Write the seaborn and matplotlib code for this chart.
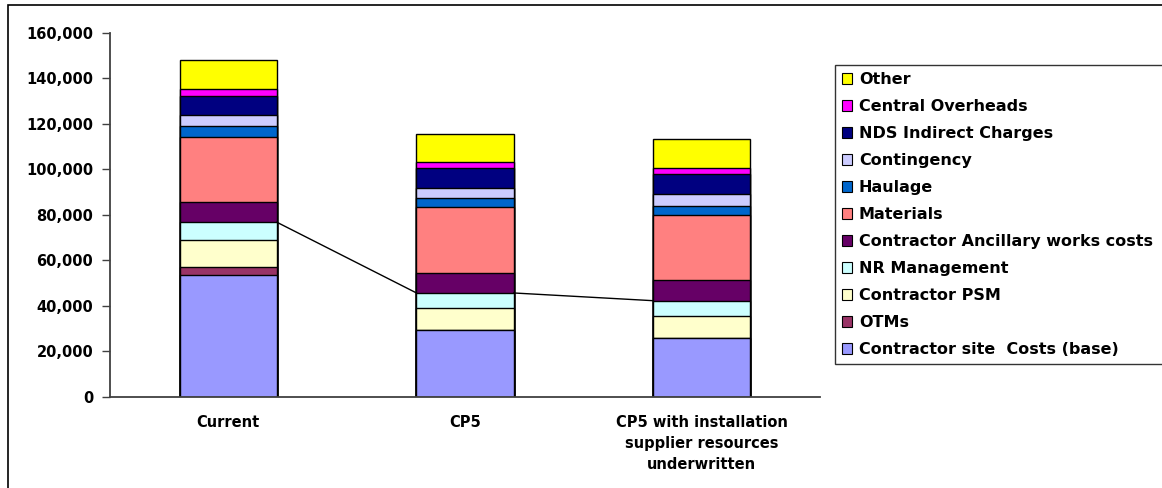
import numpy as np
import pandas as pd
import matplotlib
matplotlib.use("Agg")
import matplotlib.pyplot as plt
from matplotlib.patches import Patch, Rectangle
import seaborn as sns

categories = ["Current", "CP5", "CP5 with installation\nsupplier resources\nunderwritten"]

series_names = [
    "Contractor site  Costs (base)",
    "OTMs",
    "Contractor PSM",
    "NR Management",
    "Contractor Ancillary works costs",
    "Materials",
    "Haulage",
    "Contingency",
    "NDS Indirect Charges",
    "Central Overheads",
    "Other",
]

base_costs = [53400, 29300, 25800]
otms = [3500, 0, 0]
contractor_psm = [11800, 9600, 9700]
nr_management = [8000, 6700, 6700]
ancillary = [8900, 8900, 9000]
materials = [28700, 28700, 28700]
haulage = [4700, 4100, 3900]
contingency = [5000, 4300, 5400]
nds_indirect = [8300, 8800, 8700]
central_overheads = [2900, 2600, 2800]
other = [12800, 12500, 12400]

series_values = [base_costs, otms, contractor_psm, nr_management, ancillary,
                 materials, haulage, contingency, nds_indirect,
                 central_overheads, other]

colors = ["#9999FF", "#993366", "#FFFFCC", "#CCFFFF", "#660066", "#FF8080",
          "#0066CC", "#CCCCFF", "#000080", "#FF00FF", "#FFFF00"]

sns.set_style("white")
plt.rcParams["font.family"] = ["DejaVu Sans"]
plt.rcParams["font.weight"] = "bold"
plt.rcParams["text.color"] = "black"
plt.rcParams["xtick.labelcolor"] = "black"
plt.rcParams["ytick.labelcolor"] = "black"

W, H = 1162, 488
fig = plt.figure(figsize=(W / 100, H / 100), dpi=100)
ax = fig.add_axes([110 / W, 1 - 396.7 / H, (820 - 110) / W, (396.7 - 32.7) / H])

cum = np.cumsum(np.array(series_values, dtype=float), axis=0)
bar_w = 0.41

# draw from the top layer downwards so lower segments overlay
for i in range(len(series_names) - 1, -1, -1):
    df = pd.DataFrame({"category": categories, "value": cum[i]})
    sns.barplot(data=df, x="category", y="value", order=categories,
                color=colors[i], saturation=1, width=bar_w,
                edgecolor="black", linewidth=1.0, ax=ax, zorder=2)

# series lines joining NR Management tops
nr_idx = series_names.index("NR Management")
for j in range(len(categories) - 1):
    ax.plot([j + bar_w / 2, j + 1 - bar_w / 2], [cum[nr_idx][j], cum[nr_idx][j + 1]],
            color="black", linewidth=1.0, zorder=3)

ax.set_xlim(-0.5, 2.5)
ax.set_ylim(0, 160000)
ax.set_yticks(np.arange(0, 160001, 20000))
ax.set_yticklabels([f"{v:,}" for v in range(0, 160001, 20000)],
                   fontsize=10.5, fontweight="bold", color="black")
ax.set_xticks(range(len(categories)))
ax.set_xticklabels(categories, fontsize=10.5, fontweight="bold", linespacing=1.5, color="black")
ax.set_xticks([-0.5, 0.5, 1.5, 2.5], minor=True)
ax.tick_params(axis="x", which="major", length=0, pad=13.5)
ax.tick_params(axis="x", which="minor", length=5, width=1, color="#404040", direction="out")
ax.tick_params(axis="y", which="major", length=6, width=1, color="#404040", direction="out", pad=6, left=True)
ax.set_xlabel("")
ax.set_ylabel("")
for s in ["top", "right"]:
    ax.spines[s].set_visible(False)
for s in ["left", "bottom"]:
    ax.spines[s].set_color("#404040")
    ax.spines[s].set_linewidth(1.3)

handles = [Patch(facecolor=colors[i], edgecolor="black", linewidth=0.8, label=series_names[i])
           for i in range(len(series_names) - 1, -1, -1)]
leg = fig.legend(handles=handles, loc="upper left",
                 bbox_to_anchor=(835 / W, 0, (1180 - 835) / W, 1 - 65 / H),
                 bbox_transform=fig.transFigure, mode="expand",
                 frameon=True, fancybox=False, shadow=False,
                 prop={"family": "DejaVu Sans", "weight": "bold", "size": 11.5},
                 handlelength=0.62, handleheight=0.62, handletextpad=0.42,
                 labelspacing=0.75, borderpad=0.45, borderaxespad=0)
leg.get_frame().set_edgecolor("black")
leg.get_frame().set_linewidth(1.0)
for t in leg.get_texts():
    t.set_color("black")

fig.patches.append(Rectangle((8 / W, -0.1), 1.2, 1.1 - 5 / H, transform=fig.transFigure,
                             fill=False, edgecolor="black", linewidth=1.2, clip_on=False))

fig.savefig("out.png", dpi=100)
